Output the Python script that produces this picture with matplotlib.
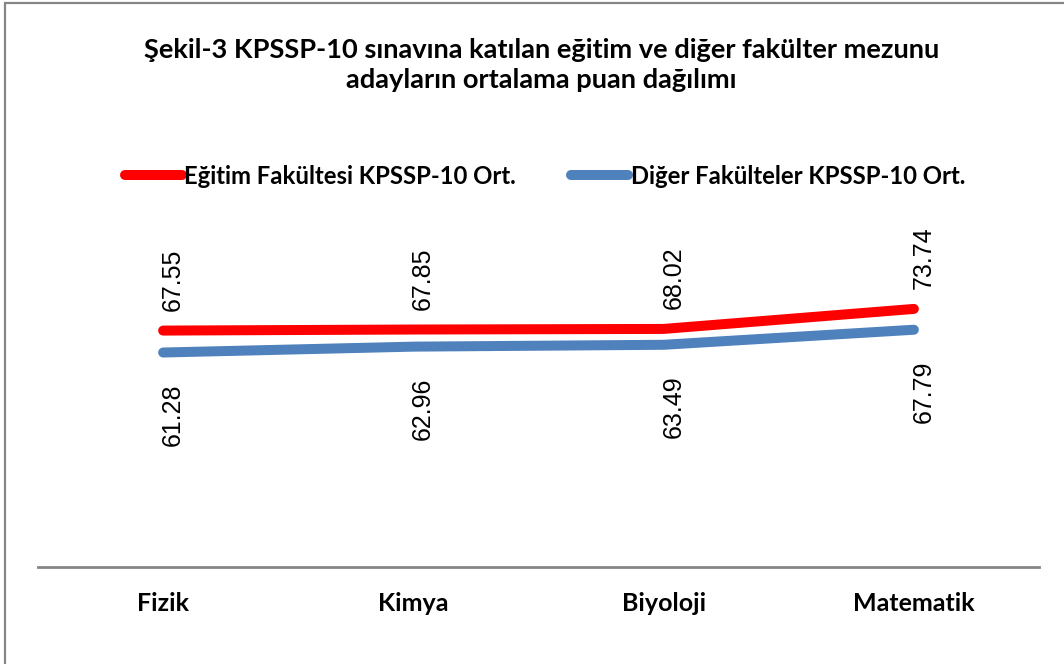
import matplotlib.pyplot as plt
from matplotlib.patches import Rectangle

kategoriler = ['Fizik', 'Kimya', 'Biyoloji', 'Matematik']
egitim = [67.55, 67.85, 68.02, 73.74]
diger = [61.28, 62.96, 63.49, 67.79]
seri_adlari = ['Eğitim Fakültesi KPSSP-10 Ort.', 'Diğer Fakülteler KPSSP-10 Ort.']
baslik = 'Şekil-3 KPSSP-10 sınavına katılan eğitim ve diğer fakülter mezunu\nadayların ortalama puan dağılımı'

W, H = 1064, 664
fig = plt.figure(figsize=(W / 100, H / 100), dpi=100)
ax = fig.add_axes([38 / W, (H - 567) / H, (1039 - 38) / W, 350 / H])

x = range(len(kategoriler))
l1, = ax.plot(x, egitim, color='#FF0000', lw=7.2, solid_capstyle='round', solid_joinstyle='round')
l2, = ax.plot(x, diger, color='#4F81BD', lw=7.2, solid_capstyle='round', solid_joinstyle='round')

# etiketler (dikey)
for i, v in enumerate(egitim):
    ax.annotate(f'{v:.2f}', (i, v), xytext=(7, 14), textcoords='offset points',
                rotation=90, ha='center', va='bottom', fontsize=18, family='Liberation Sans')
for i, v in enumerate(diger):
    ax.annotate(f'{v:.2f}', (i, v), xytext=(7, -22), textcoords='offset points',
                rotation=90, ha='center', va='top', fontsize=18, family='Liberation Sans')

ax.set_xlim(-0.5, len(kategoriler) - 0.5)
ax.set_ylim(0, 100)
ax.set_xticks(list(x))
ax.set_xticklabels(kategoriler, fontsize=18, fontweight='bold', family='Lato')
ax.tick_params(axis='x', length=0, pad=18)
ax.set_yticks([])
for s in ['top', 'right', 'left']:
    ax.spines[s].set_visible(False)
ax.spines['bottom'].set_color('#868686')
ax.spines['bottom'].set_linewidth(2)

fig.text(0.5 * (143 + 940) / W, 1 - 65 / H, baslik, ha='center', va='center',
         fontsize=19.6, fontweight='bold', family='Lato', linespacing=1.35)

fig.legend([l1, l2], seri_adlari, loc='center', bbox_to_anchor=(545 / W, 1 - 176 / H),
           ncol=2, frameon=False, handlelength=2.4, handletextpad=0.1, columnspacing=2.3,
           prop={'family': 'Lato', 'weight': 'bold', 'size': 17.2})

fig.patches.append(Rectangle((5 / W, -0.1), 1.2, 1.1 - 3 / H, transform=fig.transFigure,
                             fill=False, edgecolor='#868686', lw=1.6))

fig.savefig('out.png', dpi=100)
